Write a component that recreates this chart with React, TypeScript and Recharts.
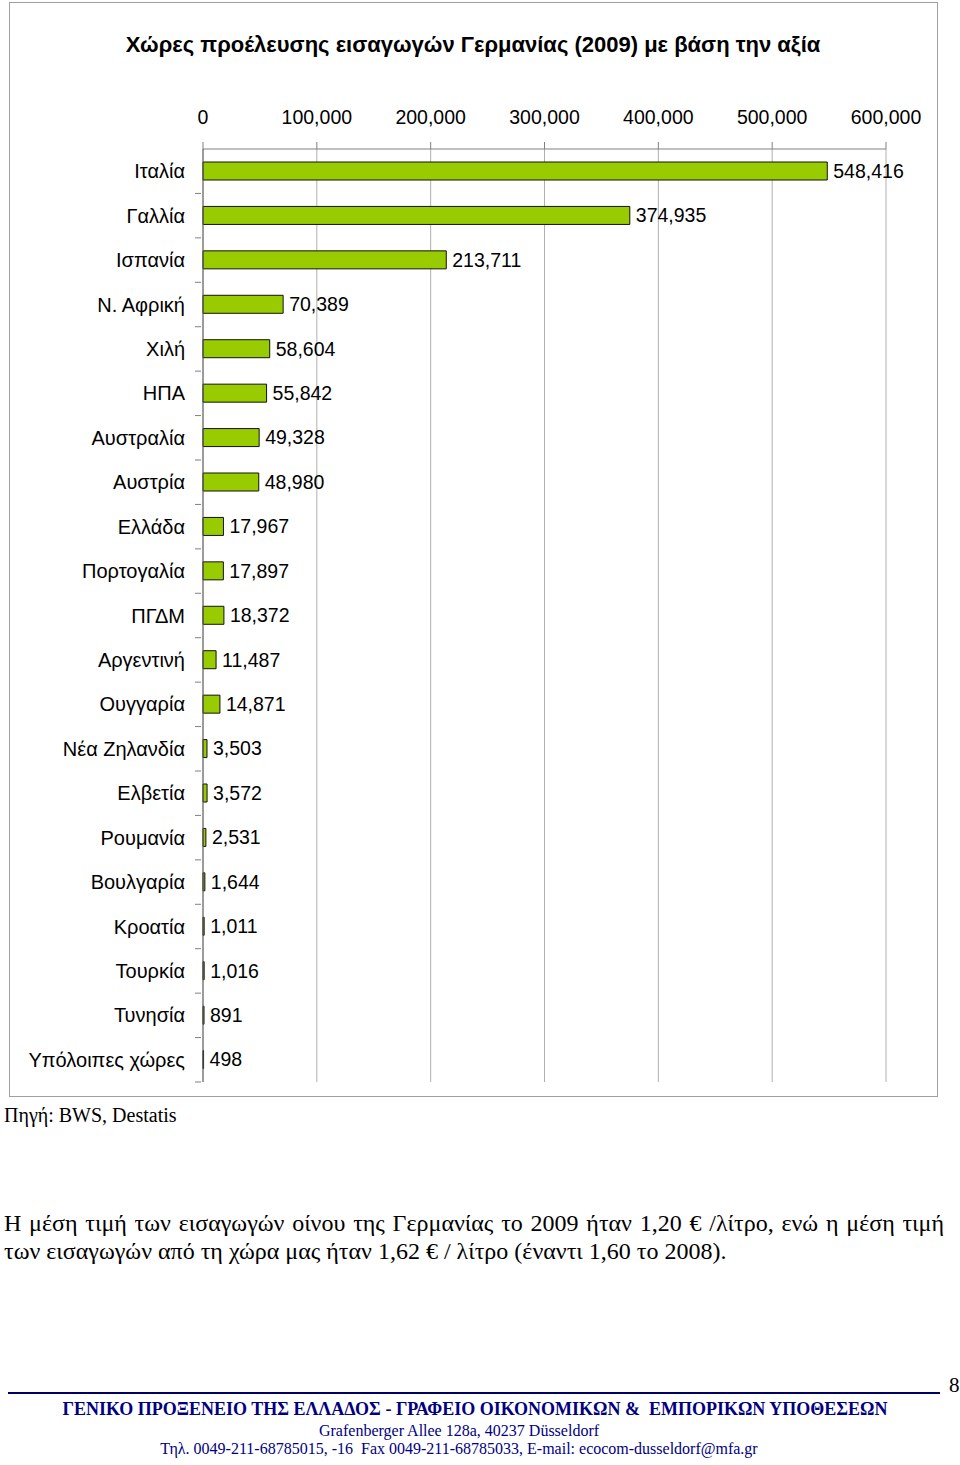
import React from "react"
import { BarChart, Bar, XAxis, YAxis, CartesianGrid, LabelList } from "recharts"

const countries = [
    "Ιταλία",
    "Γαλλία",
    "Ισπανία",
    "Ν. Αφρική",
    "Χιλή",
    "ΗΠΑ",
    "Αυστραλία",
    "Αυστρία",
    "Ελλάδα",
    "Πορτογαλία",
    "ΠΓΔΜ",
    "Αργεντινή",
    "Ουγγαρία",
    "Νέα Ζηλανδία",
    "Ελβετία",
    "Ρουμανία",
    "Βουλγαρία",
    "Κροατία",
    "Τουρκία",
    "Τυνησία",
    "Υπόλοιπες χώρες",
]

const importValues = [
    548416, 374935, 213711, 70389, 58604, 55842, 49328, 48980, 17967, 17897, 18372,
    11487, 14871, 3503, 3572, 2531, 1644, 1011, 1016, 891, 498,
]

const valueTicks = [0, 100000, 200000, 300000, 400000, 500000, 600000]

const data = countries.map((country, i) => ({ country, value: importValues[i] }))

const fmt = (v: number) => v.toLocaleString("en-US")

const sans = "'Liberation Sans', Arial, sans-serif"
const serif = "'Liberation Serif', 'Times New Roman', serif"

function CountryTick(props: any) {
    const { x, y, payload } = props
    const half = payload && payload.offset ? payload.offset : 22.25
    return (
        <g>
            <line x1={x} x2={x + 6} y1={y + half} y2={y + half} stroke="#808080" />
            <text
                x={x - 10}
                y={y}
                textAnchor="end"
                dominantBaseline="central"
                fontSize={20}
                fontFamily={sans}
                fill="#000"
            >
                {payload.value}
            </text>
        </g>
    )
}

export default function App() {
    return (
        <div
            style={{
                position: "absolute",
                left: 0,
                top: 0,
                width: 960,
                height: 1465,
                background: "#fff",
            }}
        >
            <div
                style={{
                    position: "absolute",
                    left: 9,
                    top: 2,
                    width: 927,
                    height: 1093,
                    border: "1px solid #a0a0a0",
                }}
            />
            <div
                style={{
                    position: "absolute",
                    left: 10,
                    top: 31,
                    width: 926,
                    textAlign: "center",
                    fontFamily: sans,
                    fontWeight: "bold",
                    fontSize: 22,
                    lineHeight: "28px",
                }}
            >
                Χώρες προέλευσης εισαγωγών Γερμανίας (2009) με βάση την αξία
            </div>
            <div style={{ position: "absolute", left: 8, top: 3 }}>
                <BarChart
                    width={929}
                    height={1094}
                    data={data}
                    layout="vertical"
                    margin={{ top: 106, right: 51, left: 10, bottom: 15 }}
                    barCategoryGap={0}
                >
                    <CartesianGrid horizontal={false} stroke="#b0b0b0" />
                    <XAxis
                        type="number"
                        orientation="top"
                        domain={[0, 600000]}
                        ticks={valueTicks}
                        tickFormatter={fmt}
                        height={40}
                        tickSize={7}
                        tickMargin={18}
                        tick={{ fontSize: 19.5, fontFamily: sans, fill: "#000" }}
                        axisLine={{ stroke: "#808080" }}
                        tickLine={{ stroke: "#808080" }}
                    />
                    <XAxis
                        xAxisId="bottom"
                        type="number"
                        orientation="bottom"
                        domain={[0, 600000]}
                        height={0}
                        tick={false}
                        tickLine={false}
                        axisLine={{ stroke: "#808080" }}
                    />
                    <YAxis
                        type="category"
                        dataKey="country"
                        width={185}
                        tick={<CountryTick />}
                        tickLine={false}
                        axisLine={{ stroke: "#606060" }}
                        interval={0}
                    />
                    <Bar
                        dataKey="value"
                        fill="#99CC00"
                        stroke="#111"
                        strokeWidth={1}
                        barSize={18}
                        isAnimationActive={false}
                    >
                        <LabelList
                            dataKey="value"
                            position="right"
                            offset={6}
                            formatter={(v: any) => fmt(Number(v))}
                            style={{ fontSize: 19.5, fontFamily: sans, fill: "#000" }}
                        />
                    </Bar>
                </BarChart>
            </div>
            <div
                style={{
                    position: "absolute",
                    left: 4,
                    top: 1103,
                    fontFamily: serif,
                    fontSize: 20,
                    lineHeight: "25px",
                }}
            >
                Πηγή: BWS, Destatis
            </div>
            <div
                style={{
                    position: "absolute",
                    left: 4,
                    top: 1209,
                    width: 940,
                    fontFamily: serif,
                    fontSize: 24,
                    lineHeight: "28px",
                    textAlign: "justify",
                    textAlignLast: "justify",
                }}
            >
                Η μέση τιμή των εισαγωγών οίνου της Γερμανίας το 2009 ήταν 1,20 € /λίτρο, ενώ η μέση τιμή
            </div>
            <div
                style={{
                    position: "absolute",
                    left: 4,
                    top: 1237,
                    fontFamily: serif,
                    fontSize: 24,
                    lineHeight: "28px",
                }}
            >
                των εισαγωγών από τη χώρα μας ήταν 1,62 € / λίτρο (έναντι 1,60 το 2008).
            </div>
            <div
                style={{
                    position: "absolute",
                    left: 8,
                    top: 1392,
                    width: 932,
                    height: 0,
                    borderTop: "2px solid #000060",
                }}
            />
            <div
                style={{
                    position: "absolute",
                    left: 949,
                    top: 1373,
                    fontFamily: serif,
                    fontSize: 21,
                    lineHeight: "25px",
                }}
            >
                8
            </div>
            <div
                style={{
                    position: "absolute",
                    left: 0,
                    top: 1398,
                    width: 950,
                    textAlign: "center",
                    fontFamily: serif,
                    color: "#000080",
                }}
            >
                <div style={{ fontWeight: "bold", fontSize: 18, lineHeight: "23px" }}>
                    ΓΕΝΙΚΟ ΠΡΟΞΕΝΕΙΟ ΤΗΣ ΕΛΛΑΔΟΣ - ΓΡΑΦΕΙΟ ΟΙΚΟΝΟΜΙΚΩΝ &amp;&nbsp; ΕΜΠΟΡΙΚΩΝ ΥΠΟΘΕΣΕΩΝ
                </div>
                <div style={{ fontSize: 16, lineHeight: "19px", marginLeft: -32 }}>
                    Grafenberger Allee 128a, 40237 Düsseldorf
                </div>
                <div style={{ fontSize: 16, lineHeight: "18px", marginLeft: -32 }}>
                    Τηλ. 0049-211-68785015, -16&nbsp; Fax 0049-211-68785033, E-mail: ecocom-dusseldorf@mfa.gr
                </div>
            </div>
        </div>
    )
}
